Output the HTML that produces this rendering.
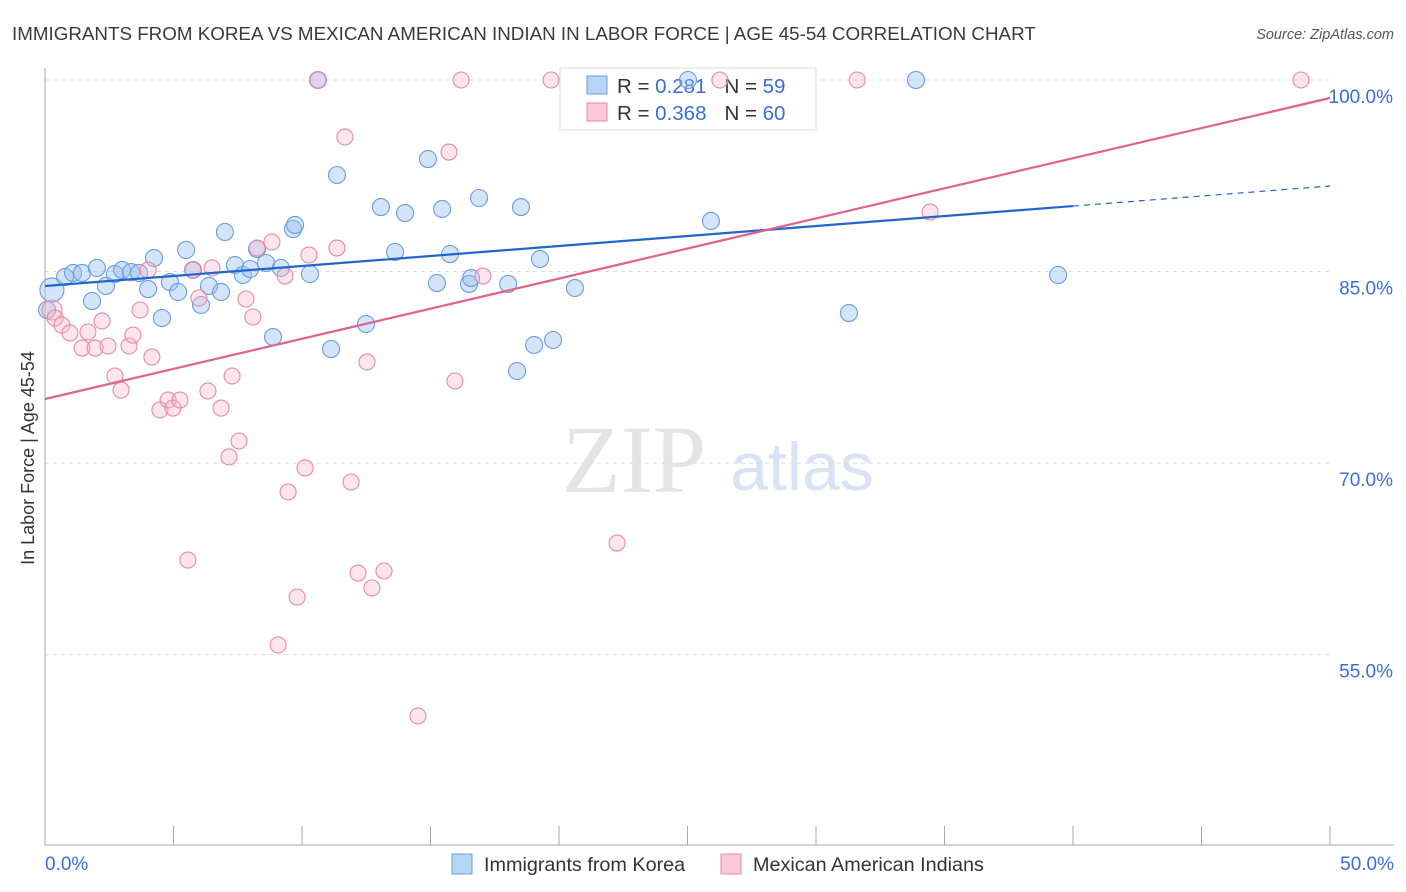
<!DOCTYPE html>
<html><head><meta charset="utf-8">
<style>
body{margin:0;background:#fff;font-family:"Liberation Sans",sans-serif;}
#wrap{position:relative;width:1406px;height:892px;overflow:hidden;}
</style></head>
<body>
<div id="wrap">
<svg id="svg" width="1406" height="892" xmlns="http://www.w3.org/2000/svg">
<text x="12" y="40" font-size="18.8" fill="#3a3a3a">IMMIGRANTS FROM KOREA VS MEXICAN AMERICAN INDIAN IN LABOR FORCE | AGE 45-54 CORRELATION CHART</text>
<text x="1394" y="39" font-size="14.5" fill="#555" text-anchor="end" font-style="italic">Source: ZipAtlas.com</text>
<text x="634" y="492" font-size="96" fill="#e4e4e4" font-family="Liberation Serif,serif" text-anchor="middle">ZIP</text>
<text x="802" y="490" font-size="68" fill="#d8e4f5" text-anchor="middle">atlas</text>
<text transform="translate(34,458) rotate(-90)" font-size="18" fill="#333" text-anchor="middle">In Labor Force | Age 45-54</text>
<g id="grid"></g><g id="axes"></g>
<g>
<rect x="560" y="68" width="256" height="62" fill="#fff" stroke="#ddd"/>
<rect x="587" y="76" width="20" height="18" fill="#b8d4f5" stroke="#6a9de0"/>
<rect x="587" y="103" width="20" height="18" fill="#f9c9d7" stroke="#e88aa8"/>
<text x="617" y="93" font-size="20.5" fill="#333">R = <tspan fill="#3a6fd6">0.281</tspan><tspan dx="18">N = </tspan><tspan fill="#3a6fd6">59</tspan></text>
<text x="617" y="120" font-size="20.5" fill="#333">R = <tspan fill="#3a6fd6">0.368</tspan><tspan dx="18">N = </tspan><tspan fill="#3a6fd6">60</tspan></text>
</g>
<g id="pts"></g><g id="lines"></g>
<g>
<rect x="452" y="854" width="20" height="20" fill="#b8d4f5" stroke="#6a9de0"/>
<text x="484" y="871" font-size="19.8" fill="#333">Immigrants from Korea</text>
<rect x="721" y="854" width="20" height="20" fill="#f9c9d7" stroke="#e88aa8"/>
<text x="753" y="871" font-size="19.8" fill="#333">Mexican American Indians</text>
</g>
</svg>
</div>
<script>
const yTicks=[100,85,70,55];
const yTickLabels=["100.0%","85.0%","70.0%","55.0%"];
const xTickVals=[0,5,10,15,20,25,30,35,40,45,50];
const blueX=[0.27,0.08,0.78,1.09,1.44,2.02,1.83,2.37,2.72,3.00,3.35,3.66,4.01,4.24,4.55,4.86,5.18,5.49,5.76,6.07,6.38,6.85,7.00,7.39,7.70,7.98,8.25,8.60,8.87,9.18,9.65,9.73,10.31,10.62,11.13,11.36,12.49,13.07,13.62,14.01,14.90,15.25,15.45,15.76,16.50,16.58,16.89,18.02,18.37,18.52,19.03,19.26,19.77,20.62,25.02,25.91,31.28,33.89,39.42];
const blueY=[83.56,81.99,84.57,84.89,84.89,85.28,82.69,83.87,84.81,85.12,84.96,84.89,83.63,86.06,81.36,84.18,83.40,86.69,85.12,82.38,83.87,83.40,88.10,85.51,84.73,85.20,86.77,85.67,79.87,85.28,88.33,88.65,84.81,100,78.93,92.56,80.89,90.05,86.53,89.58,93.81,84.10,89.90,86.37,84.03,84.49,90.76,84.03,77.21,90.05,79.25,85.98,79.64,83.71,100,88.96,81.75,100,84.73];
const pinkX=[0.27,0.39,0.66,0.97,1.44,1.67,1.95,2.22,2.45,2.72,2.96,3.27,3.42,3.70,4.16,4.01,4.47,4.79,4.98,5.25,5.56,5.76,5.99,6.34,6.50,6.85,7.28,7.16,7.55,7.82,8.09,8.25,8.83,9.34,9.46,9.81,10.12,10.27,9.07,10.62,11.36,11.67,11.91,12.18,12.53,12.72,13.19,14.51,15.72,15.95,16.19,17.04,19.69,22.26,26.26,31.60,34.44,48.87];
const pinkY=[81.99,81.36,80.81,80.19,79.01,80.27,79.01,81.13,79.17,76.82,75.72,79.17,80.03,81.99,78.31,85.12,74.16,74.94,74.31,74.94,62.41,85.12,82.93,75.65,85.28,74.31,76.82,70.48,71.73,82.85,81.44,86.84,87.31,84.65,67.74,59.51,69.62,86.30,55.76,100,86.84,95.54,68.52,61.39,77.92,60.22,61.55,50.20,94.36,76.43,100,84.65,100,63.74,100,100,89.66,100];
const blueTrend=[83.87,90.13,91.70]; // at x=0,40,50
const pinkTrend=[75.02,98.59]; // at x=0,50
const X=v=>45+v*25.7, Y=v=>80+(100-v)*12.77;
const NS="http://www.w3.org/2000/svg";
function mk(tag,a,parent){const e=document.createElementNS(NS,tag);for(const k in a)e.setAttribute(k,a[k]);document.getElementById(parent).appendChild(e);return e;}
yTicks.forEach((t,i)=>{
 const g=mk('line',{x1:45,x2:1330,y1:Y(t),y2:Y(t),stroke:'#ddd','stroke-dasharray':'4,4'},'grid');
 
 
 const l=mk('text',{x:1393,y:Y(t)+23,'font-size':19,fill:'#3a6fd6','text-anchor':'end'},'axes');
 l.textContent=yTickLabels[i];
 
 
});
const ax=mk('path',{d:'M45,68 V845 H1394',stroke:'#aaa',fill:'none'},'axes');


xTickVals.forEach(v=>{
 const t=mk('line',{x1:X(v),x2:X(v),y1:826,y2:845,stroke:'#aaa'},'axes');
 
 
});
const x0=mk('text',{x:45,y:870,'font-size':19,fill:'#3a6fd6'},'axes');x0.textContent='0.0%';


const x1=mk('text',{x:1394,y:870,'font-size':19,fill:'#3a6fd6','text-anchor':'end'},'axes');x1.textContent='50.0%';


blueX.forEach((v,i)=>{
 const c=mk('circle',{cx:X(v),cy:Y(blueY[i]),r:i==0?12:8.5,fill:'rgba(150,190,240,0.4)',stroke:'#6a9de0','stroke-width':1.1},'pts');
 
 
});
pinkX.forEach((v,i)=>{
 const c=mk('circle',{cx:X(v),cy:Y(pinkY[i]),r:i==0?10:8,fill:'rgba(246,180,200,0.35)',stroke:'#e88aa8','stroke-width':1.1},'pts');
 
 
});
const b1=mk('line',{x1:X(0),y1:Y(blueTrend[0]),x2:X(40),y2:Y(blueTrend[1]),stroke:'#2266cc','stroke-width':2.2},'lines');


const b2=mk('line',{x1:X(40),y1:Y(blueTrend[1]),x2:X(50),y2:Y(blueTrend[2]),stroke:'#2266cc','stroke-width':1.2,'stroke-dasharray':'6,5'},'lines');


const p1=mk('line',{x1:X(0),y1:Y(pinkTrend[0]),x2:X(50),y2:Y(pinkTrend[1]),stroke:'#e0628f','stroke-width':2.2},'lines');


</script>
</body></html>
